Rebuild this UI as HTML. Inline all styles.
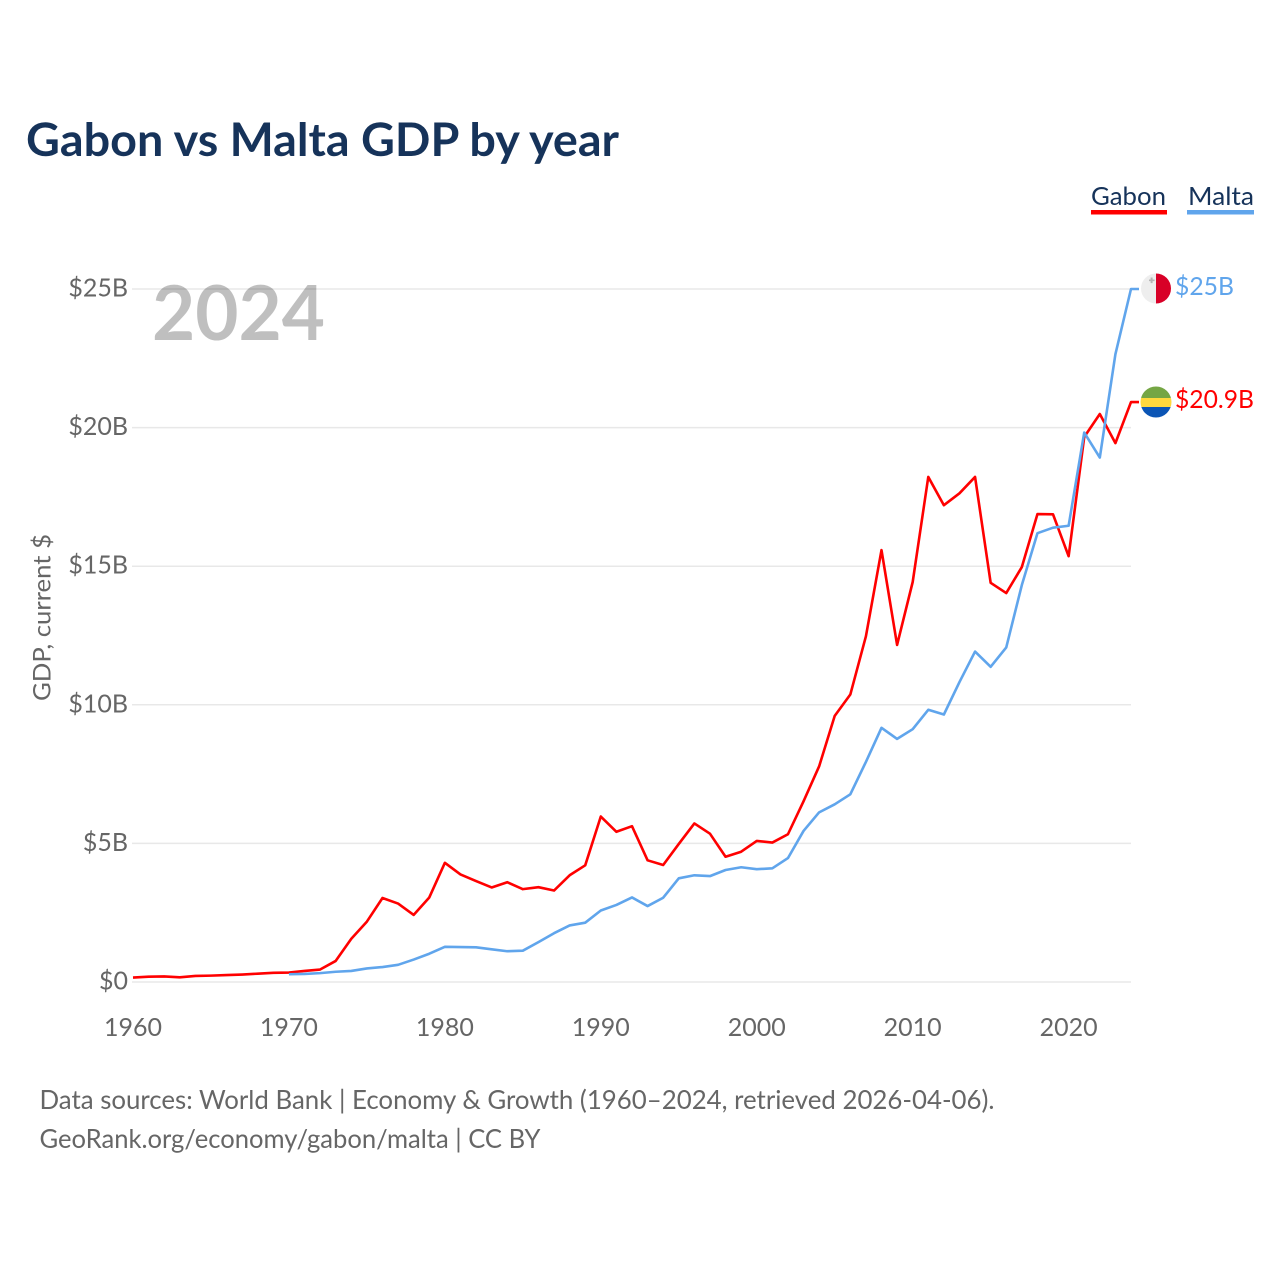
<!DOCTYPE html>
<html lang="en">
<head>
<meta charset="utf-8">
<title>Gabon vs Malta GDP by year</title>
<style>
html,body{margin:0;padding:0;background:#fff;}
svg{display:block;font-family:Lato,Carlito,"Liberation Sans",sans-serif;}
</style>
</head>
<body>
<svg id="chart" xmlns="http://www.w3.org/2000/svg" width="1280" height="1280" viewBox="0 0 1280 1280">
  <rect width="1280" height="1280" fill="#fff"/>
  <text x="26" y="156" font-size="46" font-weight="700" fill="#16335a" textLength="593" lengthAdjust="spacingAndGlyphs">Gabon vs Malta GDP by year</text>

  <g>
    <text x="1091" y="205" font-size="25.5" fill="#16335a" textLength="75" lengthAdjust="spacingAndGlyphs">Gabon</text>
    <rect x="1091" y="210" width="76" height="4.5" fill="#ff0000"/>
  </g>
  <g>
    <text x="1188" y="205" font-size="25.5" fill="#16335a" textLength="66" lengthAdjust="spacingAndGlyphs">Malta</text>
    <rect x="1187" y="210" width="67" height="4.5" fill="#60a5ec"/>
  </g>

  <g id="grid"></g>
  <text x="152" y="340" font-size="76" font-weight="700" fill="#000" fill-opacity="0.25" textLength="173" lengthAdjust="spacingAndGlyphs">2024</text>
  <g id="yticks"></g>
  <g id="xticks"></g>
  <text transform="translate(50.5,701) rotate(-90)" font-size="24.5" fill="#666" textLength="167" lengthAdjust="spacingAndGlyphs">GDP, current $</text>
  <g id="lines"></g>

  <defs>
    <clipPath id="clip-malta"><circle cx="1156" cy="288.5" r="15"/></clipPath>
    <clipPath id="clip-gabon"><circle cx="1156" cy="402" r="15.5"/></clipPath>
  </defs>
  <g clip-path="url(#clip-malta)">
    <rect x="1141" y="273" width="15" height="31" fill="#eeeeee"/>
    <rect x="1156" y="273" width="15" height="31" fill="#d80027"/>
    <path d="M1149 279.5h1.6v-2h2v2h2v1.6h-2v2h-2v-2h-1.6z" fill="#b5b5b5"/>
  </g>
  <g clip-path="url(#clip-gabon)">
    <rect x="1140" y="386" width="32" height="12" fill="#75a644"/>
    <rect x="1140" y="398" width="32" height="9" fill="#ffd83d"/>
    <rect x="1140" y="407" width="32" height="11" fill="#0b55b5"/>
  </g>
  <text x="1175" y="295" font-size="25" fill="#60a5ec" textLength="59" lengthAdjust="spacingAndGlyphs">$25B</text>
  <text x="1175" y="408" font-size="25" fill="#ff0000" textLength="79" lengthAdjust="spacingAndGlyphs">$20.9B</text>

  <text x="39.5" y="1109" font-size="26" fill="#666" textLength="955" lengthAdjust="spacingAndGlyphs">Data sources: World Bank | Economy &amp; Growth (1960–2024, retrieved 2026-04-06).</text>
  <text x="39.5" y="1148" font-size="26" fill="#666" textLength="501" lengthAdjust="spacingAndGlyphs">GeoRank.org/economy/gabon/malta | CC BY</text>
</svg>
<script>
const gabonStart = 1960;
const gabonValues = [0.16,0.19,0.2,0.17,0.22,0.23,0.25,0.27,0.3,0.33,0.34,0.4,0.45,0.76,1.56,2.18,3.03,2.83,2.42,3.05,4.3,3.88,3.64,3.41,3.6,3.35,3.42,3.3,3.85,4.21,5.97,5.42,5.62,4.39,4.22,4.98,5.72,5.35,4.52,4.7,5.09,5.03,5.33,6.52,7.78,9.6,10.37,12.47,15.58,12.16,14.43,18.22,17.2,17.63,18.22,14.4,14.03,14.97,16.88,16.87,15.36,19.66,20.49,19.44,20.92];
const maltaStart = 1970;
const maltaValues = [0.28,0.29,0.32,0.37,0.4,0.49,0.54,0.62,0.81,1.02,1.27,1.26,1.25,1.18,1.11,1.13,1.44,1.76,2.04,2.14,2.58,2.78,3.05,2.74,3.04,3.74,3.85,3.82,4.04,4.14,4.07,4.1,4.47,5.45,6.12,6.41,6.77,7.94,9.17,8.77,9.12,9.82,9.65,10.82,11.92,11.37,12.07,14.32,16.19,16.39,16.46,19.82,18.92,22.65,25.0];
const yTickValues = [0,5,10,15,20,25];
const yTickLabels = ['$0','$5B','$10B','$15B','$20B','$25B'];
const xTickYears = [1960,1970,1980,1990,2000,2010,2020];

const SVG_NS = 'http://www.w3.org/2000/svg';
function xScale(year){ return 133 + (year - 1960) * (1131 - 133) / 64; }
function yScale(v){ return 982 - v * (982 - 289) / 25; }
function make(tag, attrs){
  const el = document.createElementNS(SVG_NS, tag);
  for (const k in attrs) el.setAttribute(k, attrs[k]);
  return el;
}

const gridGroup = document.getElementById('grid');
const yTickGroup = document.getElementById('yticks');
yTickValues.forEach(function(v, i){
  const line = make('line', {x1:132, x2:1131, y1:yScale(v), y2:yScale(v), stroke:'#e8e8e8', 'stroke-width':1.5});
  
  
  gridGroup.appendChild(line);
  const label = make('text', {x:128, y:yScale(v)+7.5, 'text-anchor':'end', 'font-size':25, fill:'#666'});
  
  
  label.textContent = yTickLabels[i];
  yTickGroup.appendChild(label);
});

const xTickGroup = document.getElementById('xticks');
xTickYears.forEach(function(yr){
  const label = make('text', {x:xScale(yr), y:1036, 'text-anchor':'middle', 'font-size':25, fill:'#666'});
  
  
  label.textContent = String(yr);
  xTickGroup.appendChild(label);
});

function seriesPoints(start, values){
  const pts = values.map(function(v, i){ return xScale(start + i).toFixed(2) + ',' + yScale(v).toFixed(2); });
  pts.push((xScale(start + values.length - 1) + 8).toFixed(2) + ',' + yScale(values[values.length - 1]).toFixed(2));
  return pts.join(' ');
}
const linesGroup = document.getElementById('lines');
const gabonLine = make('polyline', {points:seriesPoints(gabonStart, gabonValues), fill:'none', stroke:'#ff0000', 'stroke-width':2.6, 'stroke-linejoin':'round'});


linesGroup.appendChild(gabonLine);
const maltaLine = make('polyline', {points:seriesPoints(maltaStart, maltaValues), fill:'none', stroke:'#60a5ec', 'stroke-width':2.6, 'stroke-linejoin':'round'});


linesGroup.appendChild(maltaLine);
</script>
</body>
</html>
